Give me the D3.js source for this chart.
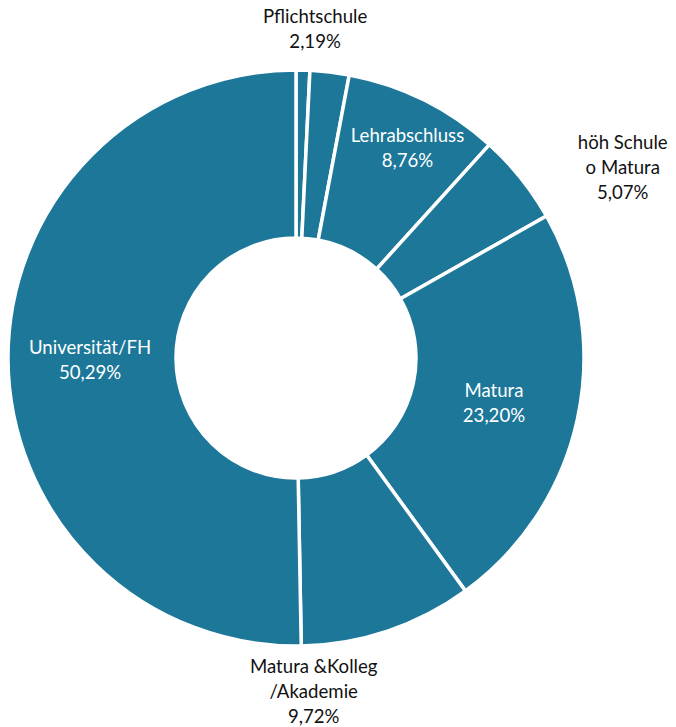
<!DOCTYPE html>
<html>
<head>
<meta charset="utf-8">
<script src="https://cdn.jsdelivr.net/npm/d3@7"></script>
<style>
  body { margin: 0; background: #fff; }
  text { font-family: Lato, "Open Sans", sans-serif; font-size: 18.6px; }
</style>
</head>
<body>
<div id="chart"></div>
<script>
// slices clockwise from 12 o'clock
const categories = ["", "Pflichtschule", "Lehrabschluss", "höh Schule\no Matura", "Matura", "Matura &Kolleg\n/Akademie", "Universität/FH"];
const values = [0.77, 2.19, 8.76, 5.07, 23.20, 9.72, 50.29];
const valueLabels = ["", "2,19%", "8,76%", "5,07%", "23,20%", "9,72%", "50,29%"];

const width = 676, height = 727;
const cx = 296, cy = 358;
const outerR = 288, innerR = 120;
const fill = "#1c7799";

const svg = d3.select("#chart").append("svg")
  .attr("width", width)
  .attr("height", height);

const g = svg.append("g").attr("transform", `translate(${cx},${cy})`);

const pie = d3.pie().sort(null).value(d => d.value);
const arc = d3.arc().innerRadius(innerR).outerRadius(outerR);

const data = categories.map((c, i) => ({ name: c, value: values[i], label: valueLabels[i] }));
const arcs = pie(data);

g.selectAll("path.slice")
  .data(arcs)
  .enter()
    .append("path")
    .attr("class", "slice")
    .attr("d", arc)
    .attr("fill", fill)
    .attr("stroke", "#fff")
    .attr("stroke-width", 3.5)
    .attr("stroke-linejoin", "miter");

// label placement: radius and angle nudge (degrees) per slice, inside labels are white
const labelPos = {
  1: { r: 330, da: -3.4, inside: false },
  2: { r: 238, da: 1.5, inside: true },
  3: { r: 378, da: 8.5, inside: false },
  4: { r: 203, da: 0.6, inside: true },
  5: { r: 334, da: 15.5, inside: false },
  6: { r: 206, da: 0, inside: true }
};

const lineH = 25;

arcs.forEach((d, i) => {
  const p = labelPos[i];
  if (!p) return;
  const a = (d.startAngle + d.endAngle) / 2 + p.da * Math.PI / 180;
  const x = p.r * Math.sin(a), y = -p.r * Math.cos(a);
  const lines = d.data.name.split("\n").concat([d.data.label]);
  const t = g.append("text")
    .attr("text-anchor", "middle")
    .attr("fill", p.inside ? "#fff" : "#111");
  const y0 = y - (lines.length - 1) * lineH / 2;
  lines.forEach((s, k) => {
    t.append("tspan")
      .attr("x", x)
      .attr("y", y0 + k * lineH)
      .attr("dy", "0.35em")
      .text(s);
  });
});
</script>
</body>
</html>
